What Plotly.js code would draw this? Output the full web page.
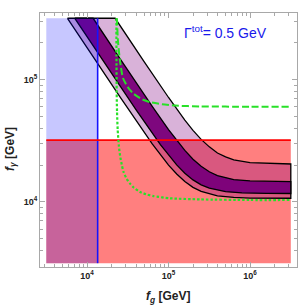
<!DOCTYPE html>
<html>
<head>
<meta charset="utf-8">
<script src="https://cdn.plot.ly/plotly-3.0.1.min.js"></script>
<style>html,body{margin:0;padding:0;background:#fff;}#chart{width:300px;height:307px;}</style>
</head>
<body>
<div id="chart"></div>
<script>
// ---- data ----
const xRange = [3162, 3162278];          // f_g extent of shaded regions (GeV)
const yRange = [3162, 316228];           // f_gamma extent of shaded regions (GeV)
const redLimitY = 32000;                 // horizontal red bound (f_gamma)
const blueLimitX = 13500;                // vertical blue bound (f_g)

// band edges: outer band lower (L1) / upper (L4), inner band lower (L2) / upper (L3)
const L1x = [5754, 10000, 25119, 63096, 100000, 125893, 158489, 199526, 251189, 398107, 630957, 1000000, 3162278];
const L1y = [316228, 181970, 72780, 29790, 20000, 16900, 14690, 13150, 12190, 11220, 10890, 10760, 10720];
const L2x = [7079, 15849, 39811, 79433, 125893, 158489, 199526, 251189, 316228, 501187, 794328, 1584893, 3162278];
const L2y = [316228, 141254, 56750, 29380, 20090, 17180, 15136, 13804, 12972, 12134, 11858, 11749, 11722];
const L3x = [11885, 25119, 63096, 100000, 158489, 199526, 251189, 316228, 398107, 630957, 1000000, 3162278];
const L3y = [316228, 149624, 60256, 38990, 26363, 22336, 19543, 17660, 16444, 15241, 14859, 14655];
const L4x = [22131, 50119, 100000, 158489, 199526, 251189, 316228, 398107, 501187, 630957, 1000000, 1584893, 3162278];
const L4y = [316228, 139637, 71285, 46666, 38459, 32434, 28184, 25119, 23335, 22080, 20941, 20606, 20417];

// green curves
const dashX = [23227, 23988, 25410, 27669, 31842, 36644, 46881, 59293, 82604, 120226, 243781, 1000000, 3162278];
const dashY = [316228, 204174, 141254, 102329, 86099, 77268, 69183, 65313, 62806, 61235, 60256, 59979, 59979];
const dotX = [22925, 22961, 23121, 23335, 23768, 24547, 25410, 26669, 28054, 30690, 33729, 37068, 44668, 54954, 65163, 104232, 243781, 1000000, 3162278];
const dotY = [316228, 158489, 77625, 54576, 38905, 28907, 23988, 20184, 17579, 15417, 14125, 13183, 12078, 11482, 11169, 10715, 10495, 10375, 10375];

// ticks and labels
const xTickVals = [1e4, 1e5, 1e6];
const xTickText = ['10<sup>4</sup>', '10<sup>5</sup>', '10<sup>6</sup>'];
const yTickVals = [1e4, 1e5];
const yTickText = ['10<sup>4</sup>', '10<sup>5</sup>'];
const xMinorVals = [3000,4000,5000,6000,7000,8000,9000,20000,30000,40000,50000,60000,70000,80000,90000,200000,300000,400000,500000,600000,700000,800000,900000,2000000,3000000];
const yMinorVals = [3000,4000,5000,6000,7000,8000,9000,20000,30000,40000,50000,60000,70000,80000,90000,200000,300000];
const widthLabel = '\u0393<sup>tot</sup>= 0.5 GeV';
const xTitle = '<b><i>f</i><sub><i>g</i></sub> [GeV]</b>';
const yTitle = '<b><i>f</i><sub><i>\u03b3</i></sub> [GeV]</b>';

// ---- traces ----
function closedPoly(ax, ay, bx, by) {
  const x = ax.concat(bx.slice().reverse(), [ax[0]]);
  const y = ay.concat(by.slice().reverse(), [ay[0]]);
  return {x, y};
}
const rect = (x0, x1, y0, y1) => ({x: [x0, x1, x1, x0, x0], y: [y0, y0, y1, y1, y0]});

const redR = rect(xRange[0], xRange[1], yRange[0], redLimitY);
const blueR = rect(xRange[0], blueLimitX, yRange[0], yRange[1]);
const outer = closedPoly(L1x, L1y, L4x, L4y);
const inner = closedPoly(L2x, L2y, L3x, L3y);

const traces = [
  {x: redR.x, y: redR.y, mode: 'lines', fill: 'toself', fillcolor: 'rgba(255,0,0,0.5)', line: {width: 0}},
  {x: outer.x, y: outer.y, mode: 'lines', fill: 'toself', fillcolor: 'rgba(128,0,128,0.3)', line: {color: 'black', width: 1.3}},
  {x: inner.x, y: inner.y, mode: 'lines', fill: 'toself', fillcolor: 'rgba(122,0,122,0.96)', line: {color: 'black', width: 1.3}},
  {x: blueR.x, y: blueR.y, mode: 'lines', fill: 'toself', fillcolor: 'rgba(0,0,255,0.22)', line: {width: 0}},
  {x: [blueLimitX, blueLimitX], y: yRange, mode: 'lines', line: {color: 'rgb(20,20,255)', width: 1.6}},
  {x: xRange, y: [redLimitY, redLimitY], mode: 'lines', line: {color: 'rgb(255,0,0)', width: 1.8}},
  {x: dotX, y: dotY, mode: 'lines', line: {color: 'rgb(40,225,40)', width: 2.2, dash: '2.5px,2px', shape: 'spline', smoothing: 0.6}},
  {x: dashX, y: dashY, mode: 'lines', line: {color: 'rgb(40,225,40)', width: 2, dash: '7px,3px', shape: 'spline', smoothing: 0.6}}
];
traces.forEach(t => { t.type = 'scatter'; t.hoverinfo = 'skip'; t.showlegend = false; });

const axisCommon = {
  type: 'log', showgrid: false, zeroline: false,
  showline: true, linecolor: '#a8a8a8', linewidth: 1, mirror: 'allticks',
  ticks: 'inside', ticklen: 5, tickwidth: 1, tickcolor: '#a8a8a8',
  tickmode: 'array',
  tickfont: {family: 'Liberation Sans, Arial, sans-serif', size: 9, color: '#222', weight: 'bold'}
};

const layout = {
  width: 300, height: 307,
  margin: {l: 40, r: 3, t: 13, b: 40, pad: 0},
  paper_bgcolor: 'white', plot_bgcolor: 'white',
  showlegend: false,
  xaxis: Object.assign({}, axisCommon, {
    range: [3.423, 6.576], tickvals: xTickVals, ticktext: xTickText,
    minor: {tickmode: 'array', tickvals: xMinorVals, ticks: 'inside', ticklen: 3, tickcolor: '#a8a8a8', showgrid: false}
  }),
  yaxis: Object.assign({}, axisCommon, {
    range: [3.469, 5.543], tickvals: yTickVals, ticktext: yTickText,
    minor: {tickmode: 'array', tickvals: yMinorVals, ticks: 'inside', ticklen: 3, tickcolor: '#a8a8a8', showgrid: false}
  }),
  annotations: [
    {text: widthLabel, xref: 'paper', yref: 'paper', x: 0.72, y: 0.925, xanchor: 'center', yanchor: 'middle',
     showarrow: false, font: {family: 'Liberation Sans, Arial, sans-serif', size: 14, color: 'rgb(25,25,235)'}},
    {text: xTitle, xref: 'paper', yref: 'paper', x: 0.498, y: -0.118, xanchor: 'center', yanchor: 'middle',
     showarrow: false, font: {family: 'Liberation Sans, Arial, sans-serif', size: 12, color: '#222'}},
    {text: yTitle, xref: 'paper', yref: 'paper', x: -0.113, y: 0.4646, xanchor: 'center', yanchor: 'middle', textangle: -90,
     showarrow: false, font: {family: 'Liberation Sans, Arial, sans-serif', size: 12, color: '#222'}}
  ]
};

Plotly.newPlot('chart', traces, layout, {staticPlot: true, displayModeBar: false});
</script>
</body>
</html>
